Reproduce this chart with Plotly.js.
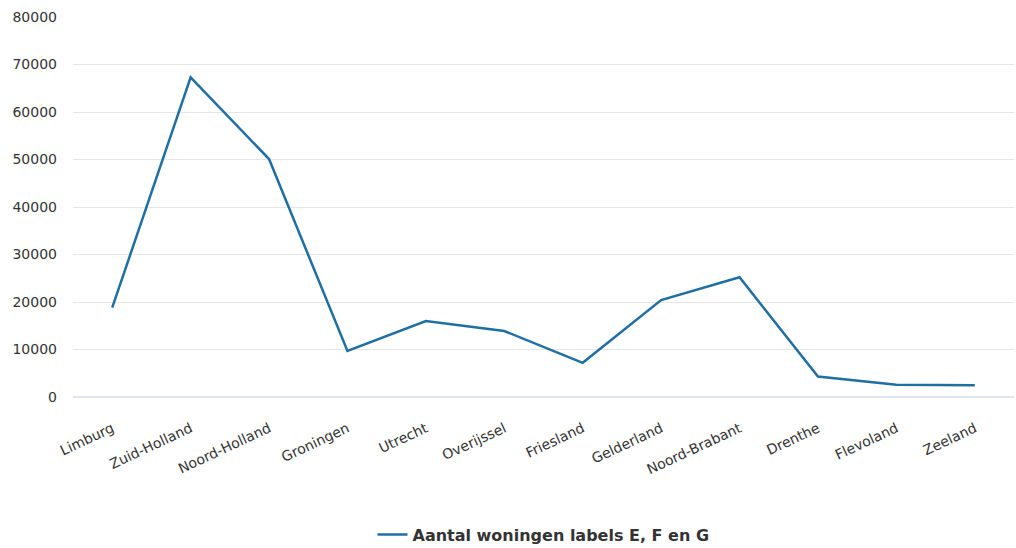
<!DOCTYPE html>
<html>
<head>
<meta charset="utf-8">
<script src="https://cdn.plot.ly/plotly-3.0.1.min.js"></script>
<style>html,body{margin:0;padding:0;background:#fff;}#chart{width:1016px;height:548px;}</style>
</head>
<body>
<div id="chart"></div>
<script>
const provinces = ["Limburg","Zuid-Holland","Noord-Holland","Groningen","Utrecht","Overijssel","Friesland","Gelderland","Noord-Brabant","Drenthe","Flevoland","Zeeland"];
const woningen = [18800, 67300, 50100, 9700, 16000, 13900, 7200, 20400, 25200, 4300, 2600, 2500];
const seriesName = "Aantal woningen labels E, F en G";
const yTicks = [0,10000,20000,30000,40000,50000,60000,70000,80000];

const trace = {
  x: provinces, y: woningen, type: "scatter", mode: "lines", name: seriesName,
  line: {color: "#1f6fa3", width: 2.5}
};
const layout = {
  width: 1016, height: 548,
  margin: {l: 73, r: 2, t: 17, b: 151, autoexpand: false},
  paper_bgcolor: "#fff", plot_bgcolor: "#fff",
  font: {family: "DejaVu Sans, Verdana, sans-serif", color: "#333", size: 14},
  xaxis: {type: "category", range: [-0.5, 11.5], tickangle: -25, showgrid: false, zeroline: false,
          showline: false, ticks: "", ticklabelstandoff: 20, automargin: false,
          tickfont: {size: 14, color: "#333"}},
  yaxis: {range: [0, 80000], tickvals: yTicks, ticktext: yTicks.map(String), showgrid: true,
          gridcolor: "#e6e6e6", gridwidth: 1, zeroline: true, zerolinecolor: "#dfe5ee", zerolinewidth: 2,
          ticks: "", ticklabelstandoff: 15, automargin: false, tickfont: {size: 14, color: "#333"}},
  showlegend: true,
  legend: {orientation: "h", x: 0.5, xanchor: "center", y: -0.362, yanchor: "middle",
           font: {size: 16, color: "#333", family: "DejaVu Sans, Verdana, sans-serif", weight: "bold"}}
};
Plotly.newPlot("chart", [trace], layout, {displayModeBar: false, staticPlot: true});
</script>
</body>
</html>
